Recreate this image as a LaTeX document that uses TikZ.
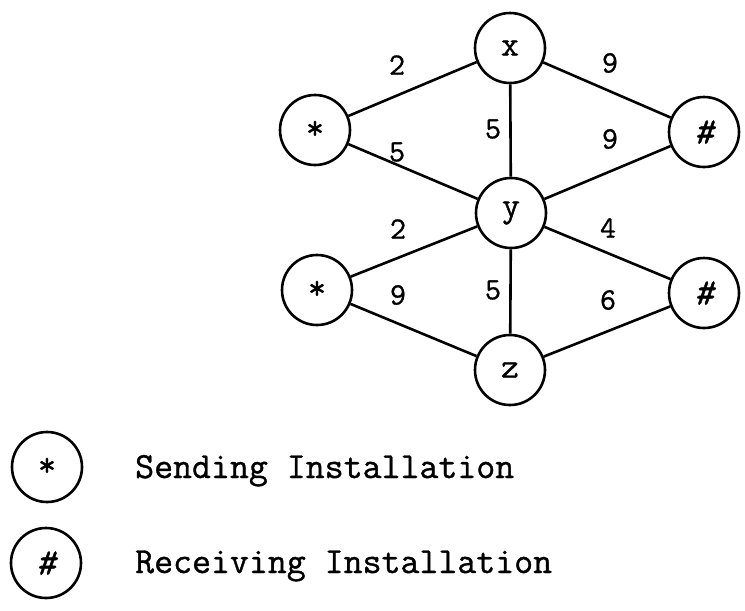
\documentclass[tikz,border=0pt]{standalone}
\usepackage{fontspec}
\newfontfamily\typeface[FakeBold=1]{Latin Modern Mono}
\newfontfamily\typeslant[FakeBold=1,FakeSlant=0.22]{Latin Modern Mono}
\tikzset{
  site/.style={circle, draw, line width=2.6pt, minimum size=70pt, inner sep=0pt,
    font=\typeface\fontsize{35}{35}\selectfont},
  wt/.style={inner sep=0pt, font=\typeface\fontsize{31}{31}\selectfont},
  link/.style={line width=2.6pt},
  keytext/.style={anchor=base west, inner sep=0pt,
    font=\typeface\fontsize{36.8}{40}\selectfont}
}
\newcommand{\sendmark}{\raisebox{-4pt}{*}}
\newcommand{\recvmark}{{\typeslant\fontsize{38}{38}\selectfont\#}}
\begin{document}
\begin{tikzpicture}[x=1pt, y=-1pt]
  \useasboundingbox (0,0) rectangle (745,611);

  % network nodes
  \node[site] (x)  at (510,48)  {x};
  \node[site] (s1) at (315,130) {\sendmark};
  \node[site] (r1) at (704,132) {\recvmark};
  \node[site] (y)  at (511,213) {y};
  \node[site] (s2) at (317,290) {\sendmark};
  \node[site] (r2) at (704,293) {\recvmark};
  \node[site] (z)  at (510,370) {z};

  % links
  \draw[link] (s1) -- (x);
  \draw[link] (s1) -- (y);
  \draw[link] (x)  -- (y);
  \draw[link] (x)  -- (r1);
  \draw[link] (y)  -- (r1);
  \draw[link] (s2) -- (y);
  \draw[link] (s2) -- (z);
  \draw[link] (y)  -- (z);
  \draw[link] (y)  -- (r2);
  \draw[link] (z)  -- (r2);

  % link weights
  \node[wt] (w1)  at (397,65)  {2};
  \node[wt] (w2)  at (610,63)  {9};
  \node[wt] (w3)  at (493,129) {5};
  \node[wt] (w4)  at (397,152) {5};
  \node[wt] (w5)  at (610,139) {9};
  \node[wt] (w6)  at (398,229) {2};
  \node[wt] (w7)  at (608,228) {4};
  \node[wt] (w8)  at (398,295) {9};
  \node[wt] (w9)  at (493,290) {5};
  \node[wt] (w10) at (608,300) {6};

  % legend
  \node[site] (ks) at (47,467) {\sendmark};
  \node[keytext] (kst) at (135,478) {Sending Installation};
  \node[site] (kr) at (46,563) {\recvmark};
  \node[keytext] (krt) at (135,573) {Receiving Installation};
\end{tikzpicture}
\end{document}
